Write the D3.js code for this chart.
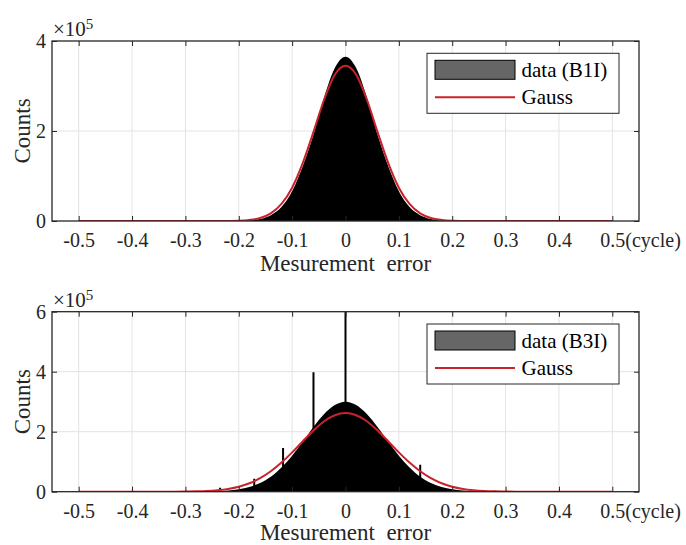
<!DOCTYPE html>
<html>
<head>
<meta charset="utf-8">
<script src="https://cdn.jsdelivr.net/npm/d3@7.9.0/dist/d3.min.js"></script>
<style>
  body { margin: 0; background: #fff; }
  svg { display: block; font-family: "Liberation Serif", "Times New Roman", serif; }
  .grid line { stroke: #e3e3e3; stroke-width: 1; }
  .tick text { fill: #262626; }
</style>
</head>
<body>
<svg id="chart" width="686" height="545"></svg>
<script>
// ---- data, counts in units of 1e5 ----
const xTicks = [-0.5, -0.4, -0.3, -0.2, -0.1, 0, 0.1, 0.2, 0.3, 0.4, 0.5];

// sample positions shared by histogram outline and Gauss fit
const binX = [-0.50, -0.40, -0.34, -0.32, -0.30, -0.28, -0.26, -0.24, -0.22, -0.20,
  -0.18, -0.16, -0.14, -0.12, -0.10, -0.08, -0.06, -0.04, -0.02, 0,
  0.02, 0.04, 0.06, 0.08, 0.10, 0.12, 0.14, 0.16, 0.18, 0.20,
  0.22, 0.24, 0.26, 0.28, 0.30, 0.32, 0.34, 0.40, 0.50];

// B1I
const histB1I = [0, 0, 0, 0, 0, 0, 0, 0, 0.001, 0.004,
  0.014, 0.045, 0.13, 0.31, 0.66, 1.22, 1.92, 2.75, 3.40, 3.65,
  3.40, 2.75, 1.92, 1.22, 0.66, 0.31, 0.13, 0.045, 0.014, 0.004,
  0.001, 0, 0, 0, 0, 0, 0, 0, 0];
const gaussB1I = [0, 0, 0, 0, 0, 0, 0, 0, 0.002, 0.007,
  0.024, 0.067, 0.17, 0.38, 0.74, 1.29, 1.98, 2.70, 3.25, 3.45,
  3.25, 2.70, 1.98, 1.29, 0.74, 0.38, 0.17, 0.067, 0.024, 0.007,
  0.002, 0, 0, 0, 0, 0, 0, 0, 0];

// B3I
const histB3I = [0, 0, 0, 0, 0, 0.002, 0.006, 0.015, 0.036, 0.078,
  0.156, 0.29, 0.50, 0.81, 1.20, 1.67, 2.16, 2.59, 2.89, 3.00,
  2.89, 2.59, 2.16, 1.67, 1.20, 0.81, 0.50, 0.29, 0.156, 0.078,
  0.036, 0.015, 0.006, 0.002, 0, 0, 0, 0, 0];
const gaussB3I = [0, 0, 0, 0.002, 0.005, 0.012, 0.024, 0.049, 0.092, 0.165,
  0.28, 0.45, 0.68, 0.97, 1.31, 1.68, 2.04, 2.35, 2.55, 2.62,
  2.55, 2.35, 2.04, 1.68, 1.31, 0.97, 0.68, 0.45, 0.28, 0.165,
  0.092, 0.049, 0.024, 0.012, 0.005, 0.002, 0, 0, 0];
// isolated spikes in the B3I histogram
const spikeX = [-0.235, -0.171, -0.117, -0.06, 0, 0.14, 0.28];
const spikeB3I = [0.13, 0.43, 1.46, 3.98, 6.0, 0.9, 0.03];

const panels = [
  { top: 41, yMax: 4, yTicks: [0, 2, 4], hist: histB1I, gauss: gaussB1I, label: 'data (B1I)', spikes: null, titleY: 50 },
  { top: 311.7, yMax: 6, yTicks: [0, 2, 4, 6], hist: histB3I, gauss: gaussB3I, label: 'data (B3I)', spikes: spikeB3I, titleY: 48.5 }
];

const RED = '#c8232b';
const AX = '#262626';
const left = 52, right = 639, h = 180;

const svg = d3.select('#chart');

panels.forEach((p, i) => {
  const g = svg.append('g').attr('transform', `translate(0,${p.top})`);
  const x = d3.scaleLinear().domain([-0.55, 0.55]).range([left, right]);
  const y = d3.scaleLinear().domain([0, p.yMax]).range([h, 0]);

  // grid
  g.append('g').attr('class', 'grid')
    .selectAll('line.v').data(xTicks).join('line')
    .attr('x1', d => x(d)).attr('x2', d => x(d)).attr('y1', 0).attr('y2', h);
  g.append('g').attr('class', 'grid')
    .selectAll('line.h').data(p.yTicks.slice(1, -1)).join('line')
    .attr('x1', left).attr('x2', right).attr('y1', d => y(d)).attr('y2', d => y(d));

  const clipId = 'clip' + i;
  g.append('clipPath').attr('id', clipId)
    .append('rect').attr('x', left).attr('y', 0).attr('width', right - left).attr('height', h);
  const plot = g.append('g').attr('clip-path', `url(#${clipId})`);

  // histogram (filled black)
  const pts = binX.map((bx, k) => [bx, p.hist[k]]);
  plot.append('path')
    .datum(pts)
    .attr('fill', '#000')
    .attr('d', d3.area().x(d => x(d[0])).y0(y(0)).y1(d => y(d[1])).curve(d3.curveMonotoneX));

  if (p.spikes) {
    plot.selectAll('line.spike')
      .data(spikeX.map((sx, k) => [sx, p.spikes[k]]))
      .join('line')
      .attr('x1', d => x(d[0])).attr('x2', d => x(d[0]))
      .attr('y1', y(0)).attr('y2', d => y(d[1]))
      .attr('stroke', '#000').attr('stroke-width', 2);
  }

  // Gauss fit
  const gpts = binX.map((bx, k) => [bx, p.gauss[k]]);
  plot.append('path')
    .datum(gpts)
    .attr('fill', 'none')
    .attr('stroke', RED)
    .attr('stroke-width', 2)
    .attr('d', d3.line().x(d => x(d[0])).y(d => y(d[1])).curve(d3.curveMonotoneX));

  // axes (inward ticks all round)
  const fmt = d => d === 0 ? '0' : String(d);
  const xb = g.append('g').attr('transform', `translate(0,${h})`)
    .call(d3.axisBottom(x).tickValues(xTicks).tickFormat(fmt).tickSizeInner(-5).tickSizeOuter(0).tickPadding(12));
  g.append('g')
    .call(d3.axisTop(x).tickValues(xTicks).tickFormat('').tickSizeInner(-5).tickSizeOuter(0));
  g.append('g').attr('transform', `translate(${left},0)`)
    .call(d3.axisLeft(y).tickValues(p.yTicks).tickFormat(d3.format('d')).tickSizeInner(-5).tickSizeOuter(0).tickPadding(6));
  g.append('g').attr('transform', `translate(${right},0)`)
    .call(d3.axisRight(y).tickValues(p.yTicks).tickFormat('').tickSizeInner(-5).tickSizeOuter(0));

  g.selectAll('.domain').remove();
  g.selectAll('.tick line').attr('stroke', AX);
  g.selectAll('.tick text').attr('font-size', 20).attr('font-family', 'Liberation Serif');

  // "0.5(cycle)" on the last x tick, keeping 0.5 centred on the tick
  const last = xb.selectAll('.tick text').filter(d => d === 0.5);
  const w = last.node().getComputedTextLength();
  last.attr('text-anchor', 'start').attr('x', -w / 2).append('tspan').text('(cycle)');

  // box
  g.append('rect')
    .attr('x', left).attr('y', 0).attr('width', right - left).attr('height', h)
    .attr('fill', 'none').attr('stroke', AX).attr('stroke-width', 1.3);

  // x10^5
  const ex = g.append('text').attr('x', 53).attr('y', -5)
    .attr('font-size', 21).attr('fill', AX).text('\u00d710');
  ex.append('tspan').attr('font-size', 15).attr('dy', -7).text('5');

  // axis titles
  g.append('text')
    .attr('transform', `translate(30,${h / 2}) rotate(-90)`)
    .attr('text-anchor', 'middle').attr('font-size', 23).attr('fill', AX)
    .text('Counts');
  g.append('text')
    .attr('x', (left + right) / 2).attr('y', h + p.titleY)
    .attr('text-anchor', 'middle').attr('font-size', 23).attr('fill', AX)
    .attr('xml:space', 'preserve')
    .text('Mesurement  error');

  // legend
  const lg = g.append('g').attr('transform', `translate(427,12.3)`);
  lg.append('rect').attr('width', 192).attr('height', 60)
    .attr('fill', '#fff').attr('stroke', AX).attr('stroke-width', 1);
  lg.append('rect').attr('x', 8).attr('y', 7).attr('width', 80).attr('height', 19)
    .attr('fill', '#666').attr('stroke', '#000').attr('stroke-width', 1);
  lg.append('line').attr('x1', 8).attr('x2', 88).attr('y1', 44).attr('y2', 44)
    .attr('stroke', RED).attr('stroke-width', 2);
  lg.append('text').attr('x', 94.5).attr('y', 24).attr('font-size', 21).attr('fill', '#000').text(p.label);
  lg.append('text').attr('x', 94.5).attr('y', 51).attr('font-size', 21).attr('fill', '#000').text('Gauss');
});
</script>
</body>
</html>
